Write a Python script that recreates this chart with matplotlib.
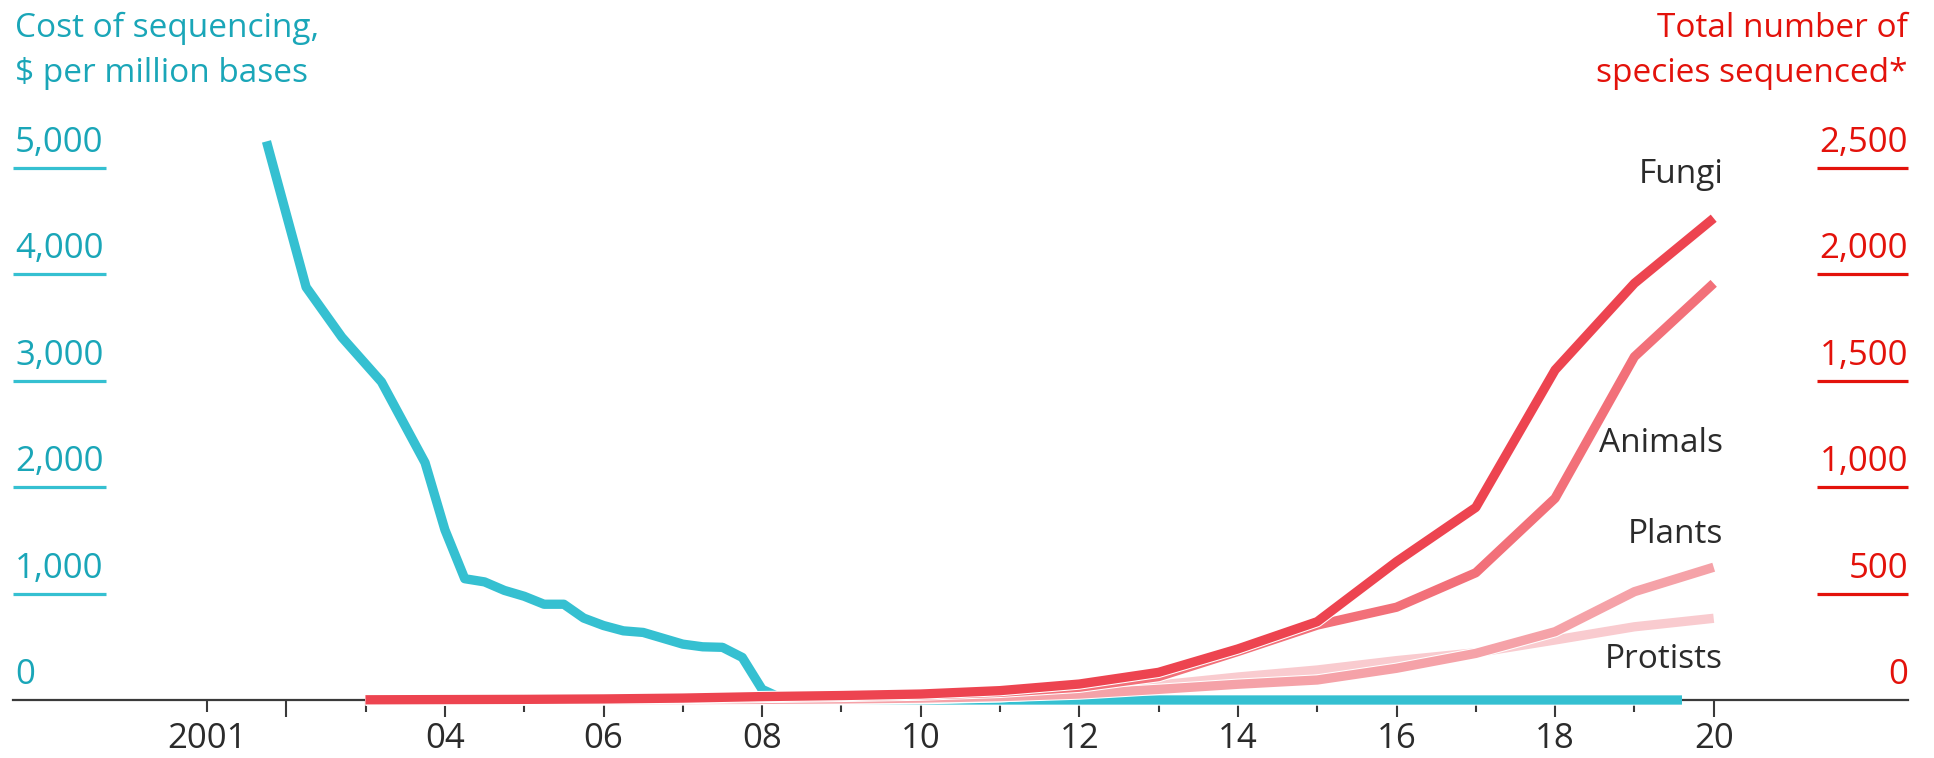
import matplotlib.pyplot as plt
import matplotlib.patheffects as pe
import matplotlib.transforms as mtransforms

plt.rcParams['font.family'] = ['Open Sans', 'DejaVu Sans']

# cost of sequencing, $ per million bases
cost_years = [2001.75, 2002.25, 2002.7, 2003.2, 2003.75, 2004.0, 2004.25, 2004.5, 2004.75,
              2005.0, 2005.25, 2005.5, 2005.75, 2006.0, 2006.25, 2006.5, 2006.75,
              2007.0, 2007.25, 2007.5, 2007.75, 2008.0, 2008.25, 2008.5, 2008.75,
              2009.0, 2009.5, 2010.0, 2011.0, 2012.0, 2013.0, 2014.0, 2015.0,
              2016.0, 2017.0, 2018.0, 2019.0, 2019.6]
cost = [5250, 3880, 3410, 2990, 2230, 1600, 1140, 1110, 1030,
        975, 900, 900, 770, 700, 650, 635, 580,
        525, 500, 495, 400, 100, 15, 8, 4,
        2.6, 1.2, 0.5, 0.1, 0.1, 0.06, 0.04, 0.015,
        0.012, 0.012, 0.011, 0.01, 0.01]

# total number of species sequenced
years = list(range(2003, 2021))
fungi = [1, 2, 3, 5, 9, 16, 21, 28, 44, 75, 130, 240, 368, 650, 905, 1551, 1958, 2264]
animals = [1, 1, 2, 4, 7, 12, 17, 23, 36, 60, 110, 228, 352, 436, 598, 948, 1613, 1958]
plants = [0, 0, 1, 1, 2, 3, 5, 9, 16, 28, 50, 74, 94, 149, 219, 321, 509, 624]
protists = [0, 0, 0, 1, 1, 2, 3, 6, 15, 35, 70, 108, 141, 185, 222, 282, 344, 384]

cost_ticks = [0, 1000, 2000, 3000, 4000, 5000]
species_ticks = [0, 500, 1000, 1500, 2000, 2500]
major_years = list(range(2002, 2021, 2))
minor_years = list(range(2001, 2020, 2))

BLUE_TXT = "#1aa6b8"
BLUE = "#35c0d1"
RED = "#e3120b"
DARK = "#2b2b2b"
W, H = 1934, 758

fig = plt.figure(figsize=(W / 100, H / 100), dpi=100)
ax = fig.add_axes([0, 0, 1, 1])
ax2 = ax.twinx()

ax.set_xlim(2001 - 207 / 79.3, 2001 + (W - 207) / 79.3)
ax.set_ylim(-58 / 0.1064, 700 / 0.1064)
ax2.set_ylim(-58 / 0.2128, 700 / 0.2128)

outline = [pe.Stroke(linewidth=8.2, foreground="white"), pe.Normal()]

ax.plot(cost_years, cost, color=BLUE, lw=6.7, solid_capstyle="butt",
        solid_joinstyle="round", path_effects=outline, zorder=3)

series = [("Protists", protists, "#f9cbcf", 150),
          ("Plants", plants, "#f5a2a8", 738),
          ("Animals", animals, "#f27079", 1165),
          ("Fungi", fungi, "#ed4450", 2429)]
for i, (name, vals, col, label_y) in enumerate(series):
    ax2.plot(years, vals, color=col, lw=6.7, solid_capstyle="butt",
             solid_joinstyle="round", path_effects=outline, zorder=3 + i)
    ax2.text(2020.12, label_y, name, ha="right", va="baseline",
             fontsize=24, color=DARK)

# axes styling
for a in (ax, ax2):
    for s in a.spines.values():
        s.set_visible(False)
    a.set_yticks([])
ax.spines["bottom"].set_visible(True)
ax.spines["bottom"].set_position(("data", 0))
ax.spines["bottom"].set_bounds(1998.55, 2022.45)
ax.spines["bottom"].set_color("#3a3a3a")
ax.spines["bottom"].set_linewidth(1.6)
ax.spines["bottom"].set_zorder(1)

ax.set_xticks(major_years, ["" if y == 2002 else f"{y % 100:02d}" for y in major_years])
ax.set_xticks(minor_years, ["2001" if y == 2001 else "" for y in minor_years], minor=True)
ax.tick_params(axis="x", which="major", direction="out", length=12.2, width=1.5,
               color="#3a3a3a", labelsize=25, labelcolor=DARK, pad=4)
ax.tick_params(axis="x", which="minor", direction="out", length=8.6, width=1.5,
               color="#3a3a3a", labelsize=25, labelcolor=DARK, pad=7.6)

# y scales drawn as short lines with labels above them
lift = 0.16
tl = mtransforms.offset_copy(ax.get_yaxis_transform(), fig=fig, y=lift)
tr = mtransforms.offset_copy(ax2.get_yaxis_transform(), fig=fig, y=lift)
for v in cost_ticks:
    if v > 0:
        ax.hlines(v, 13 / W, 106 / W, transform=ax.get_yaxis_transform(),
                  color=BLUE, lw=2.3)
    ax.text(15 / W, v, f"{v:,}", transform=tl, ha="left", va="baseline",
            fontsize=25, color=BLUE_TXT)
for v in species_ticks:
    if v > 0:
        ax2.hlines(v, 1817 / W, 1908 / W, transform=ax2.get_yaxis_transform(),
                   color=RED, lw=2.3)
    ax2.text(1908 / W, v, f"{v:,}", transform=tr, ha="right", va="baseline",
             fontsize=25, color=RED)

# titles
fig.text(15 / W, 1 - 37 / H, "Cost of sequencing,", color=BLUE_TXT, fontsize=24,
         ha="left", va="baseline")
fig.text(15 / W, 1 - 82 / H, "$ per million bases", color=BLUE_TXT, fontsize=24,
         ha="left", va="baseline")
fig.text(1908 / W, 1 - 37 / H, "Total number of", color=RED, fontsize=24,
         ha="right", va="baseline")
fig.text(1908 / W, 1 - 82 / H, "species sequenced*", color=RED, fontsize=24,
         ha="right", va="baseline")

fig.savefig("out.png", dpi=100)
